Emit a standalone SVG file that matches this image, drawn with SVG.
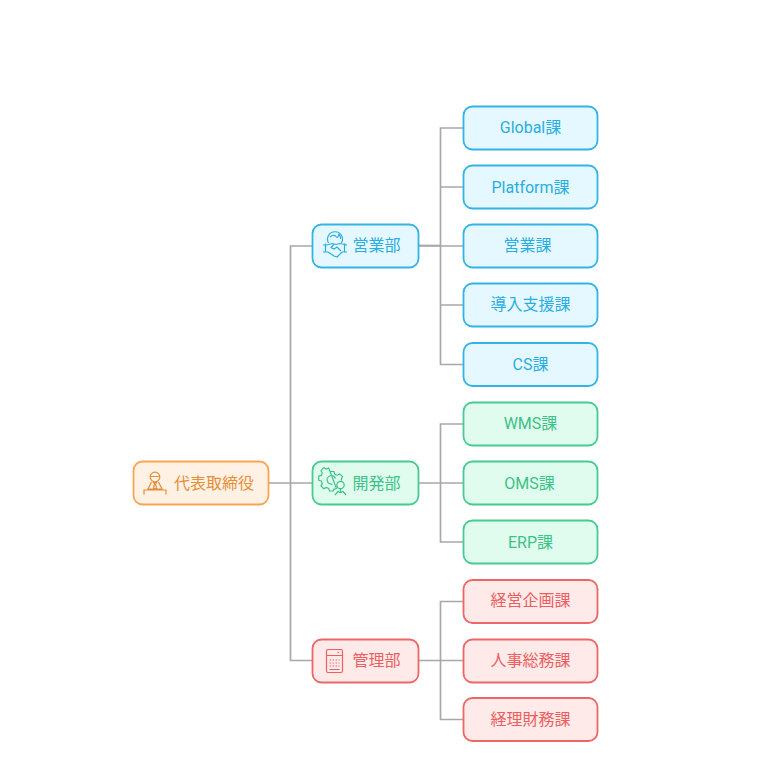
<svg xmlns="http://www.w3.org/2000/svg" width="761" height="781" viewBox="0 0 761 781">
<style>
text{font-family:Roboto,"Noto Sans CJK JP",sans-serif;font-size:16px;text-anchor:middle;dominant-baseline:central}
rect{stroke-width:1.8}
.c{fill:none;stroke:#a8a8a8;stroke-width:1.7}
.ic{fill:none;stroke-width:1.2}
.o rect{fill:#fff1e4;stroke:#f7a650}.o text{fill:#e48e3a}.o .ic{stroke:#e48e3a}
.b rect{fill:#e6f8ff;stroke:#32b4e4}.b text{fill:#28aee0}.b .ic{stroke:#28aee0}
.g rect{fill:#e0fcee;stroke:#48ca92}.g text{fill:#3cc286}.g .ic{stroke:#3cc286}
.r rect{fill:#ffeaea;stroke:#ec6666}.r text{fill:#ea6060}.r .ic{stroke:#ea6060}
</style>
<g id="connectors">
<path class="c" d="M268 483H312M290.500 483V246H312M290.500 483V660.500H312"/>
<path class="c" d="M418 246H463M440.500 246V128H463M440.500 187H463M440.500 246V364.500H463M440.500 305H463"/>
<path class="c" d="M418 245.500H441"/>
<path class="c" d="M418 483H463M440.500 483V424H463M440.500 483V542H463"/>
<path class="c" d="M418 660.500H463M440.500 660.500V601.500H463M440.500 660.500V719.500H463"/>
</g>
<g id="ceo" class="o"><rect x="133.500" y="461.500" width="135" height="43" rx="9"/>
<g class="ic"><circle cx="155" cy="477" r="4.800"/><path d="M150.300 476.500h9.400M151.500 482l-3.500 7h14l-3.500-7M153.500 482.500h3l-1 1.500 1 4-1.500 1-1.500-1 1-4zM144 494.500v-4.500h22v4.500"/></g>
<text x="214" y="483">代表取締役</text></g>
<g id="sales" class="b"><rect x="312.500" y="224.500" width="106" height="43" rx="9"/>
<g class="ic"><path d="M328.500 243a7.500 7.500 0 1 1 13 0"/><path d="M330 237q4-3 6-.5t3-3M339 234q2 3 1.500 5M323 245h4l5-1.500 4 1 4-1 7 1.500M325.500 243.500v9M344.500 243.500v9M323 252h5l6 4 3 1 5-5h5M334 244l-3 3.500 3 1.500 3-2 4 4"/></g>
<text x="376.500" y="245.500">営業部</text></g>
<g id="dev" class="g"><rect x="312.500" y="461.500" width="106" height="43" rx="9"/>
<g class="ic"><path d="M330 471.500h4l.8 2.700 2.400 1 2.500-1.300 2.800 2.800-1.200 2.500.4 1.300M336.500 488.500l-2.700.8-.6 1.700h-3.700l-.8-2.600-2.400-1-2.500 1.300-2.800-2.800 1.300-2.500-1-2.400-2.600-.8v-4l2.600-.8 1-2.400-1.300-2.500 2.800-2.800 2.500 1.300 2.400-1z"/><path d="M335.500 478.500a4.300 4.300 0 1 0-3 5.500"/><circle cx="340.500" cy="485" r="3.700"/><path d="M335 495l3-3.500 2.500 1 2.500-1 3 3.500M340.500 489v4"/></g>
<text x="376.500" y="483">開発部</text></g>
<g id="admin" class="r"><rect x="312.500" y="639.500" width="106" height="43" rx="9"/>
<g class="ic"><path d="M328 649.500h13a1.500 1.500 0 0 1 1.500 1.500v20a1.500 1.500 0 0 1-1.500 1.500h-13a1.500 1.500 0 0 1-1.500-1.500v-20a1.500 1.500 0 0 1 1.500-1.500zM326.500 655.500h16M337.500 652.500h1.500M329.500 669.500h10"/><path d="M329.500 660h10M329.500 663h10M329.500 666h10" stroke-dasharray="1.500 1.500"/></g>
<text x="376.500" y="660">管理部</text></g>
<g id="global" class="b"><rect x="463.500" y="106.500" width="134" height="43" rx="9"/><text x="530.500" y="127.500">Global課</text></g>
<g id="platform" class="b"><rect x="463.500" y="165.500" width="134" height="43" rx="9"/><text x="530.500" y="187">Platform課</text></g>
<g id="eigyo" class="b"><rect x="463.500" y="224.500" width="134" height="43" rx="9"/><text x="527.500" y="245.500">営業課</text></g>
<g id="donyu" class="b"><rect x="463.500" y="283.500" width="134" height="43" rx="9"/><text x="530.500" y="304.500">導入支援課</text></g>
<g id="cs" class="b"><rect x="463.500" y="343" width="134" height="43" rx="9"/><text x="530.500" y="364">CS課</text></g>
<g id="wms" class="g"><rect x="463.500" y="402.500" width="134" height="43" rx="9"/><text x="530.500" y="423.500">WMS課</text></g>
<g id="oms" class="g"><rect x="463.500" y="461.500" width="134" height="43" rx="9"/><text x="529.500" y="483">OMS課</text></g>
<g id="erp" class="g"><rect x="463.500" y="520.500" width="134" height="43" rx="9"/><text x="530.500" y="542">ERP課</text></g>
<g id="keiei" class="r"><rect x="463.500" y="580" width="134" height="43" rx="9"/><text x="530.500" y="600.500">経営企画課</text></g>
<g id="jinji" class="r"><rect x="463.500" y="639.500" width="134" height="43" rx="9"/><text x="530.500" y="660">人事総務課</text></g>
<g id="keiri" class="r"><rect x="463.500" y="698" width="134" height="43" rx="9"/><text x="530.500" y="719">経理財務課</text></g>
</svg>
